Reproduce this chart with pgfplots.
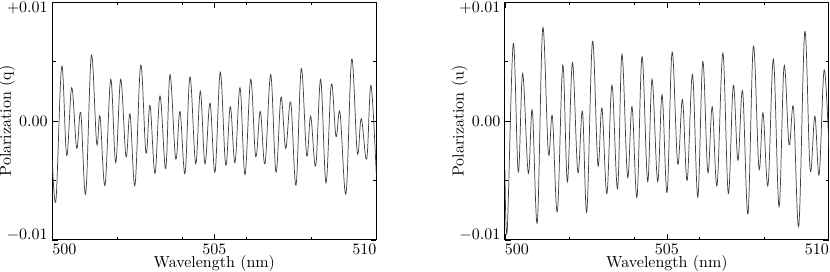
\documentclass[border=0pt]{standalone}
\usepackage{pgfplots}
\pgfplotsset{compat=1.18}
\usepackage{pgfplotstable}

% Stokes q, read peak by peak
\pgfplotstableread{
lam q
500.000 -0.0033
500.114 -0.0066
500.290 0.0046
500.444 -0.0029
500.599 0.0028
500.753 -0.0023
500.877 0.0007
501.031 -0.0061
501.204 0.0055
501.370 -0.0019
501.472 0.0004
501.627 -0.0054
501.802 0.0035
501.957 -0.0035
502.111 0.0035
502.275 -0.0030
502.398 0.0006
502.552 -0.0054
502.728 0.0047
502.892 -0.0027
503.015 0.0013
503.170 -0.0044
503.324 0.0021
503.500 -0.0040
503.633 0.0039
503.809 -0.0032
503.941 0.0008
504.096 -0.0044
504.250 0.0037
504.426 -0.0036
504.568 0.0025
504.713 -0.0036
504.867 0.0015
505.022 -0.0043
505.185 0.0041
505.352 -0.0037
505.494 0.0012
505.639 -0.0035
505.793 0.0028
505.948 -0.0045
506.123 0.0035
506.278 -0.0030
506.420 0.0008
506.565 -0.0036
506.741 0.0039
506.904 -0.0043
507.059 0.0020
507.204 -0.0023
507.358 0.0016
507.522 -0.0054
507.685 0.0044
507.852 -0.0029
507.975 0.0004
508.130 -0.0038
508.284 0.0035
508.448 -0.0052
508.611 0.0031
508.756 -0.0013
508.880 0.0007
509.065 -0.0061
509.241 0.0052
509.414 -0.0027
509.537 0.0002
509.704 -0.0032
509.836 0.0030
510.000 -0.0045
}\qdata

% Stokes u
\pgfplotstableread{
lam u
500.000 -0.0041
500.071 -0.0092
500.257 0.0065
500.412 -0.0043
500.548 0.0040
500.721 -0.0044
500.845 0.0009
501.000 -0.0085
501.167 0.0078
501.341 -0.0027
501.464 0.0004
501.619 -0.0076
501.786 0.0047
501.929 -0.0051
502.084 0.0049
502.251 -0.0043
502.393 0.0008
502.529 -0.0076
502.703 0.0067
502.870 -0.0037
502.994 0.0011
503.149 -0.0061
503.303 0.0030
503.477 -0.0057
503.613 0.0056
503.786 -0.0047
503.923 0.0012
504.077 -0.0064
504.232 0.0054
504.406 -0.0051
504.542 0.0035
504.715 -0.0051
504.851 0.0022
505.006 -0.0060
505.161 0.0058
505.334 -0.0036
505.480 0.0018
505.625 -0.0050
505.789 0.0039
505.954 -0.0064
506.108 0.0050
506.263 -0.0043
506.399 0.0012
506.548 -0.0054
506.728 0.0057
506.895 -0.0061
507.050 0.0030
507.192 -0.0033
507.337 0.0025
507.502 -0.0078
507.669 0.0063
507.842 -0.0040
507.966 0.0007
508.121 -0.0054
508.288 0.0052
508.461 -0.0072
508.616 0.0046
508.771 -0.0020
508.907 0.0011
509.071 -0.0088
509.257 0.0075
509.421 -0.0041
509.567 0.0004
509.700 -0.0045
509.854 0.0043
510.000 -0.0022
}\udata

\pgfplotsset{
  polax/.style={
    scale only axis, width=202.5pt, height=148.75pt,
    xmin=500, xmax=510, ymin=-0.01, ymax=0.01,
    xtick={500,505,510},
    xticklabels={\makebox[0pt][l]{500},505,\makebox[0pt][r]{510}},
    minor xtick={502,504,506,508},
    ytick={-0.01,0,0.01},
    yticklabels={\smash{$-0.01$},$0.00$,\smash{\raisebox{-\height}{$+0.01$}}},
    minor ytick={-0.005,0.005},
    scaled y ticks=false,
    tick pos=both, tick align=inside,
    major tick length=3.5pt, minor tick length=2pt,
    every tick/.style={black, line width=0.5pt},
    axis line style={line width=0.6pt},
    yticklabel style={inner sep=2.7pt},
    xticklabel style={inner sep=2pt},
    xlabel={Wavelength (nm)},
    xlabel style={at={(axis description cs:0.5,0)}, anchor=center, yshift=-15pt},
    ylabel style={at={(axis description cs:-0.14,0.5)}, anchor=center},
  },
}

\begin{document}
\begin{tikzpicture}
\begin{axis}[polax, ylabel={Polarization (q)}]
  \addplot[black!75, line width=0.45pt, smooth, tension=0.6] table[x=lam, y=q] {\qdata};
\end{axis}
\begin{axis}[polax, at={(282.9pt,0pt)}, ylabel={Polarization (u)}]
  \addplot[black!75, line width=0.45pt, smooth, tension=0.6] table[x=lam, y=u] {\udata};
\end{axis}
\pgfresetboundingbox
\path (-32.7pt,-20pt) rectangle (486.1pt,150pt);
\end{tikzpicture}
\end{document}
